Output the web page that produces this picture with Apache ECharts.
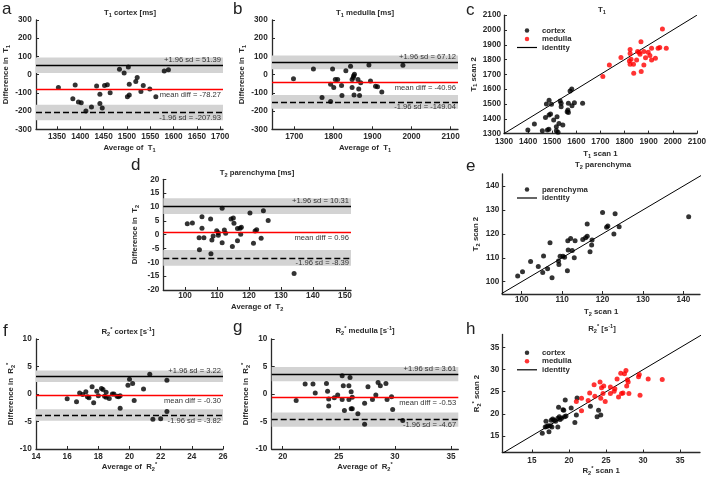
<!DOCTYPE html>
<html><head><meta charset="utf-8">
<script src="https://cdn.jsdelivr.net/npm/echarts@6/dist/echarts.min.js"></script>
<style>html,body{margin:0;padding:0;background:#fff}#c{width:709px;height:478px}</style>
</head><body><div id="c"></div>
<script>
// ---------- DATA ----------
// a: T1 cortex Bland-Altman
const aAvg  = [1353,1384,1389,1396,1402,1412,1424,1435,1442,1442,1447,1452,1458,1464,1484,1494,1503,1505,1501,1505,1519,1522,1530,1535,1549,1562,1580,1589];
const aDiff = [-70,-132,-57,-150,-154,-199,-177,-62,-108,-159,-183,-59,-55,-100,29,9,42,-53,-122,-112,-38,-15,-93,-60,-79,-121,20,27];
const aStats = [51.39, -78.27, -207.93];
const aBand = 43;
// b: T1 medulla Bland-Altman
const bAvg  = [1698,1749,1771,1793,1793,1798,1801,1805,1811,1821,1822,1832,1844,1848,1848,1851,1852,1854,1853,1863,1865,1867,1870,1891,1895,1908,1913,1924,1978];
const bDiff = [-22,31,-126,-148,-53,31,-71,-26,-26,-59,-115,22,46,-26,-70,-15,-6,2,-112,-27,-79,-115,-44,53,-35,-64,-66,-95,51];
const bStats = [67.12, -40.96, -149.04];
const bBand = 38;
// c: T1 scan1 vs scan2
const cCortexX = [1399,1426,1459,1472,1476,1480,1486,1487,1487,1493,1497,1506,1517,1520,1517,1524,1528,1533,1537,1537,1544,1562,1567,1565,1567,1574,1581,1582,1592,1626];
const cCortexY = [1324,1365,1320,1408,1500,1324,1329,1525,1426,1432,1498,1392,1347,1414,1320,1309,1369,1520,1505,1482,1358,1448,1505,1460,1443,1588,1601,1489,1509,1505];
const cMedullaX = [1710,1737,1785,1823,1823,1820,1823,1827,1837,1838,1854,1850,1861,1864,1868,1869,1880,1880,1887,1898,1905,1912,1912,1928,1939,1946,1957,1973];
const cMedullaY = [1685,1764,1815,1869,1842,1791,1768,1802,1768,1707,1854,1797,1849,1836,1921,1719,1854,1764,1813,1849,1827,1876,1797,1809,1876,1881,2007,1876];
const cIdentity = [1300, 2100];
// d: T2 parenchyma Bland-Altman
const dAvg  = [100.7,102.3,104.4,104.5,105.3,105.3,105.9,108.0,108.1,108.4,108.8,109.9,110.4,110.4,111.6,111.6,112.3,112.7,114.4,115.1,115.3,114.8,116.4,116.4,117.2,117.6,117.4,120.3,121.4,121.9,122.4,123.8,124.5,126.0,134.1];
const dDiff = [3.9,4.2,-1.1,-5.5,6.5,2.3,-1.1,5.7,-6.9,-1.9,-0.5,1.4,0.7,-0.2,9.5,-2.9,1.7,0.5,5.7,6.0,4.1,-4.3,2.2,-2.2,2.3,2.7,0.1,7.8,-3.1,1.3,1.8,-1.3,8.6,5.1,-14.0];
const dStats = [10.31, 0.96, -8.39];
const dBand = 2.85;
// e: T2 scan1 vs scan2
const eX = [99.0,100.2,102.2,104.1,105.2,105.4,106.4,107.0,107.5,109.1,109.2,109.5,110.2,110.6,111.3,111.4,111.5,112.1,112.5,113.0,113.2,115.1,115.8,116.2,116.2,116.9,117.3,117.4,120.0,121.0,121.3,122.8,123.1,124.1,141.3];
const eY = [102.4,104.2,108.4,106.3,103.8,110.7,105.4,116.3,101.7,108.6,107.2,110.6,110.6,110.2,104.6,117.1,113.2,118.1,113.0,110.0,117.1,117.6,118.4,119.0,124.1,112.5,115.3,117.4,128.9,122.7,123.3,119.9,128.4,123.0,127.1];
const eIdentity = [95, 145];
// f: R2* cortex Bland-Altman
const fAvg  = [16.0,16.6,16.8,17.0,17.2,17.3,17.4,17.6,17.7,17.9,18.0,18.2,18.3,18.4,18.5,18.5,18.7,18.9,19.0,19.2,19.3,19.4,19.4,19.9,20.0,20.2,20.3,20.9,21.3,21.5,22.0,22.4,22.4];
const fDiff = [-0.85,-1.4,0.2,-0.1,0.4,-0.5,-0.7,1.3,-1.6,0.5,-0.3,1.0,0.8,-0.4,-0.6,0.3,-0.8,0.0,0.0,-0.4,-0.5,-0.3,-2.6,1.6,2.7,1.9,-1.2,0.9,3.6,-4.6,-4.5,2.5,-3.2];
const fStats = [3.22, -0.30, -3.82];
const fBand = 1.05;
// g: R2* medulla Bland-Altman
const gAvg  = [21.2,22.0,22.7,22.9,23.9,24.0,24.1,24.1,24.6,24.9,25.3,25.3,25.4,25.5,25.9,25.9,26.0,26.1,26.1,26.2,26.2,26.7,27.3,27.3,27.6,28.0,28.3,28.5,28.7,29.2,29.3,29.7,29.8,30.7];
const gDiff = [-1.2,1.8,1.8,0.2,1.9,0.5,-0.9,-2.2,-0.7,-0.2,3.3,-1.0,1.5,-3.0,1.5,-1.0,3.0,0.4,-2.7,-0.6,-2.7,-3.6,-1.7,-5.5,1.3,-1.0,-0.2,2.1,1.5,1.9,-1.0,-0.5,-2.8,-4.8];
const gStats = [3.61, -0.53, -4.67];
const gBand = 1.3;
// h: R2* scan1 vs scan2
const hCortexX = [16.4,17.3,16.9,16.8,17.0,17.2,17.5,17.7,17.6,17.8,18.0,18.2,18.5,18.5,18.7,18.8,19.0,19.2,19.3,19.4,19.5,19.6,18.6,20.3,20.8,21.0,21.1,22.9,23.8,24.0,24.3];
const hCortexY = [15.6,15.9,18.3,17.0,17.1,17.3,17.3,17.0,18.5,18.8,18.5,18.3,17.0,19.0,19.3,18.7,19.0,20.9,20.8,19.3,23.1,19.5,21.5,21.3,18.0,19.7,23.6,21.7,19.3,20.8,19.7];
const hMedullaX = [21.0,21.7,21.7,22.6,22.8,23.4,23.5,24.2,24.3,24.4,24.7,24.6,24.9,25.6,25.6,26.1,26.2,26.5,26.7,27.0,27.1,27.3,27.5,27.7,27.8,27.9,28.0,28.1,29.4,29.5,29.6,30.7,32.6];
const hMedullaY = [22.8,23.5,20.7,23.0,24.7,26.6,24.0,27.2,23.5,25.9,26.3,24.6,22.8,26.1,24.6,25.1,25.7,27.9,23.8,29.2,24.6,24.7,29.1,29.8,26.3,27.7,27.2,24.6,28.4,28.9,24.2,27.9,27.8];
const hIdentity = [11, 38];

// Tick labels
const aXTicks = [1350,1400,1450,1500,1550,1600,1650,1700];
const bXTicks = [1700,1800,1900,2000,2100];
const abYTicks = [-300,-200,-100,0,100,200,300];
const cTicks = [1300,1400,1500,1600,1700,1800,1900,2000,2100];
const dXTicks = [100,110,120,130,140,150];
const dYTicks = [-20,-15,-10,-5,0,5,10,15,20];
const eTicks = [100,110,120,130,140];
const fXTicks = [14,16,18,20,22,24,26];
const fgYTicks = [-10,-5,0,5,10];
const gXTicks = [20,25,30,35];
const hTicks = [15,20,25,30,35];

// ---------- STYLE / LAYOUT ----------
const FONT = '"Liberation Sans", Arial, Helvetica, sans-serif';
const INK = '#2a2a2a';
const rich = {
  b: {fontSize: 7.8, fontWeight: 'bold', color: INK, fontFamily: FONT},
  s: {fontSize: 5.6, fontWeight: 'bold', color: INK, fontFamily: FONT, padding: [5,0,0,0]},
  p: {fontSize: 5.6, fontWeight: 'bold', color: INK, fontFamily: FONT, padding: [0,0,5,0]}
};
const grids = [
  {left: 36,    top: 20,    width: 187,   height: 109.3}, // a
  {left: 272,   top: 20,    width: 186,   height: 109.3}, // b
  {left: 504,   top: 15.2,  width: 195.5, height: 118.4}, // c
  {left: 163.3, top: 179.3, width: 187.7, height: 110.7}, // d
  {left: 502.3, top: 174,   width: 197.7, height: 120},   // e
  {left: 36,    top: 339,   width: 187,   height: 110},   // f
  {left: 271.7, top: 339,   width: 186.6, height: 110},   // g
  {left: 502.3, top: 334.5, width: 197.7, height: 118}    // h
];

function axis(gi, range, ticks, name, gap, margin) {
  return {
    gridIndex: gi, type: 'value', min: range[0], max: range[1],
    name: name, nameLocation: 'middle', nameGap: gap,
    nameTextStyle: {rich: rich, fontFamily: FONT},
    axisLine: {show: true, onZero: false, lineStyle: {color: INK, width: 1.3}},
    axisTick: {show: true, inside: true, length: 3, customValues: ticks, lineStyle: {color: INK, width: 1}},
    axisLabel: {customValues: ticks, margin: margin, fontSize: 8.2, fontWeight: 'bold', color: INK,
                fontFamily: FONT, formatter: v => String(v)},
    splitLine: {show: false}
  };
}

const xAxes = [
  axis(0, [1305, 1706], aXTicks, '{b|Average of  T}{s|1}', 13.5, 3.5),
  axis(1, [1643, 2119], bXTicks, '{b|Average of  T}{s|1}', 13.5, 3.5),
  axis(2, [1300, 2100], cTicks, '{b|T}{s|1}{b| scan 1}', 14.5, 4.4),
  axis(3, [93.2, 151.9], dXTicks, '{b|Average of  T}{s|2}', 11.5, 1.5),
  axis(4, [95.2, 144.1], eTicks, '{b|T}{s|2}{b| scan 1}', 12, 2.2),
  axis(5, [14, 26], fXTicks, '{b|Average of  R}{s|2}{p|*}', 11.5, 3.9),
  axis(6, [19.02, 35.65], gXTicks, '{b|Average of  R}{s|2}{p|*}', 11.5, 3.9),
  axis(7, [11, 37.7], hTicks, '{b|R}{s|2}{p|*}{b| scan 1}', 12.5, 3.9)
];
const yAxes = [
  axis(0, [-300, 300], abYTicks, '{b|Difference in  T}{s|1}', 24.5, 4.3),
  axis(1, [-300, 300], abYTicks, '{b|Difference in  T}{s|1}', 24.5, 4.3),
  axis(2, [1300, 2100], cTicks, '{b|T}{s|1}{b| scan 2}', 23, 3),
  axis(3, [-20, 20], dYTicks, '{b|Difference in  T}{s|2}', 22.5, 4),
  axis(4, [94.86, 145], eTicks, '{b|T}{s|2}{b| scan 2}', 19.5, 3),
  axis(5, [-10, 10], fgYTicks, '{b|Difference in  R}{s|2}{p|*}', 18.2, 4.3),
  axis(6, [-10, 10], fgYTicks, '{b|Difference in  R}{s|2}{p|*}', 18.2, 4.3),
  axis(7, [11.2, 38], hTicks, '{b|R}{s|2}{p|*}{b| scan 2}', 19.5, 3)
];

function zip(xs, ys) { return xs.map((v, i) => [v, ys[i]]); }
function fmt(v) { return v.toFixed(2); }

function baSeries(gi, avg, diff, stats, band) {
  const lbl = {fontSize: 7.6, color: '#333', fontFamily: FONT, distance: [2, 1.5]};
  return {
    type: 'scatter', xAxisIndex: gi, yAxisIndex: gi, data: zip(avg, diff),
    symbol: 'circle', symbolSize: 5, itemStyle: {color: '#000'}, z: 3,
    markArea: {silent: true, itemStyle: {color: '#d3d3d3'},
      data: [[{yAxis: stats[0] - band}, {yAxis: stats[0] + band}],
             [{yAxis: stats[2] - band}, {yAxis: stats[2] + band}]]},
    markLine: {silent: true, symbol: ['none', 'none'],
      data: [
        {yAxis: stats[0], lineStyle: {color: '#000', width: 1.3, type: 'solid'},
         label: Object.assign({}, lbl, {position: 'insideEndTop', formatter: '+1.96 sd = ' + fmt(stats[0])})},
        {yAxis: stats[1], lineStyle: {color: '#ff0000', width: 1.3, type: 'solid'},
         label: Object.assign({}, lbl, {position: 'insideEndBottom', formatter: 'mean diff = ' + fmt(stats[1])})},
        {yAxis: stats[2], lineStyle: {color: '#000', width: 1.3, type: [6, 3]},
         label: Object.assign({}, lbl, {position: 'insideEndBottom', formatter: '-1.96 sd = ' + fmt(stats[2])})}
      ]}
  };
}
function pts(gi, name, xs, ys, color) {
  return {type: 'scatter', name: name, xAxisIndex: gi, yAxisIndex: gi, data: zip(xs, ys),
          symbol: 'circle', symbolSize: 5, itemStyle: {color: color}, z: 3};
}
function identity(gi, r) {
  return {type: 'line', name: 'identity', xAxisIndex: gi, yAxisIndex: gi,
          data: [[r[0], r[0]], [r[1], r[1]]], symbol: 'none', showSymbol: false, clip: true,
          itemStyle: {color: '#000'}, lineStyle: {color: '#000', width: 1}, z: 2};
}

const series = [
  baSeries(0, aAvg, aDiff, aStats, aBand),
  baSeries(1, bAvg, bDiff, bStats, bBand),
  pts(2, 'cortex', cCortexX, cCortexY, '#000'),
  pts(2, 'medulla', cMedullaX, cMedullaY, '#ff0000'),
  identity(2, cIdentity),
  baSeries(3, dAvg, dDiff, dStats, dBand),
  pts(4, 'parenchyma', eX, eY, '#000'),
  identity(4, eIdentity),
  baSeries(5, fAvg, fDiff, fStats, fBand),
  baSeries(6, gAvg, gDiff, gStats, gBand),
  pts(7, 'cortex', hCortexX, hCortexY, '#000'),
  pts(7, 'medulla', hMedullaX, hMedullaY, '#ff0000'),
  identity(7, hIdentity)
];

const LINE_ICON = 'path://M0,0L20,0L20,1.2L0,1.2Z';
const legendBase = {orient: 'vertical', itemWidth: 20, itemHeight: 4.5, itemGap: 0.5, selectedMode: false,
  textStyle: {fontSize: 7.8, fontWeight: 'bold', color: INK, fontFamily: FONT}};
const legends = [
  Object.assign({}, legendBase, {left: 512, top: 21.5, data: [{name: 'cortex', icon: 'circle'}, {name: 'medulla', icon: 'circle'}, {name: 'identity', icon: LINE_ICON}]}),
  Object.assign({}, legendBase, {left: 512, top: 180.5, data: [{name: 'parenchyma', icon: 'circle'}, {name: 'identity', icon: LINE_ICON}]}),
  Object.assign({}, legendBase, {left: 512, top: 343.8, data: [{name: 'cortex', icon: 'circle'}, {name: 'medulla', icon: 'circle'}, {name: 'identity', icon: LINE_ICON}]})
];

const titles = [
  {x: 130, y: 13,  text: '{b|T}{s|1}{b| cortex [ms]}'},
  {x: 365, y: 13,  text: '{b|T}{s|1}{b| medulla [ms]}'},
  {x: 602, y: 10,  text: '{b|T}{s|1}'},
  {x: 257, y: 172.5, text: '{b|T}{s|2}{b| parenchyma [ms]}'},
  {x: 603, y: 165, text: '{b|T}{s|2}{b| parenchyma}'},
  {x: 128, y: 331.5, text: '{b|R}{s|2}{p|*}{b| cortex [s}{p|-1}{b|]}'},
  {x: 365, y: 330.5, text: '{b|R}{s|2}{p|*}{b| medulla [s}{p|-1}{b|]}'},
  {x: 602, y: 328.5, text: '{b|R}{s|2}{p|*}{b| [s}{p|-1}{b|]}'}
];
const letters = [
  {x: 2, y: 9, t: 'a'}, {x: 233, y: 9, t: 'b'}, {x: 466, y: 10, t: 'c'},
  {x: 131, y: 165, t: 'd'}, {x: 466, y: 166, t: 'e'},
  {x: 3, y: 331, t: 'f'}, {x: 233, y: 327, t: 'g'}, {x: 466, y: 329, t: 'h'}
];
const graphic = titles.map(t => ({type: 'text', x: t.x, y: t.y, z: 10,
    style: {text: t.text, rich: rich, align: 'center', verticalAlign: 'middle', fill: INK}}))
  .concat(letters.map(l => ({type: 'text', x: l.x, y: l.y, z: 10,
    style: {text: l.t, align: 'left', verticalAlign: 'middle', fill: '#222',
            font: 'normal 17px ' + FONT}})));

const chart = echarts.init(document.getElementById('c'), null, {renderer: 'canvas'});
chart.setOption({
  animation: false,
  backgroundColor: '#fff',
  grid: grids,
  xAxis: xAxes,
  yAxis: yAxes,
  legend: legends,
  series: series,
  graphic: graphic
});
</script>
</body></html>
